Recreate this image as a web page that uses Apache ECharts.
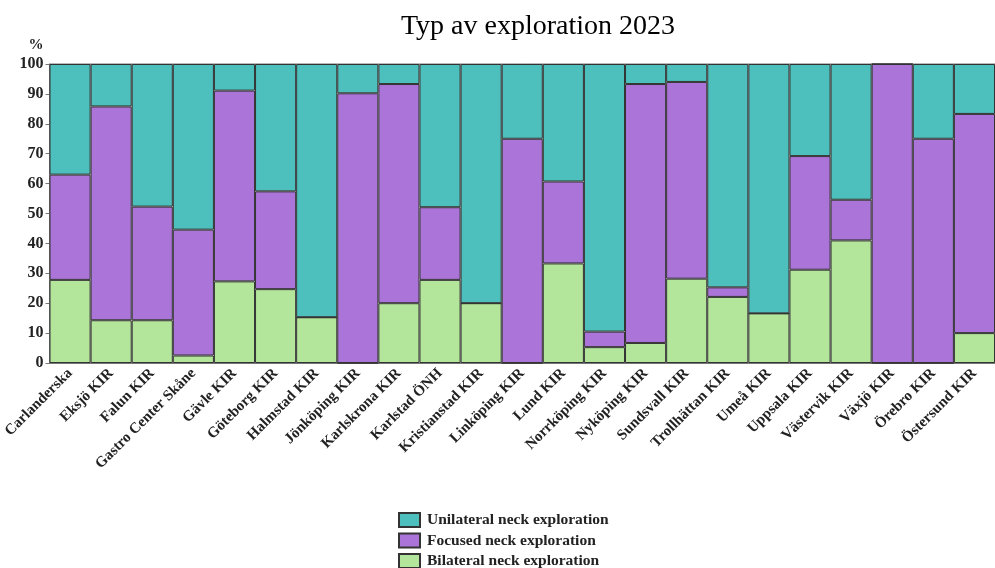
<!DOCTYPE html>
<html>
<head>
<meta charset="utf-8">
<script src="https://cdn.jsdelivr.net/npm/echarts@6/dist/echarts.min.js"></script>
<style>
  html, body { margin: 0; padding: 0; background: #fff; }
  #chart { width: 995px; height: 568px; }
</style>
</head>
<body>
<div id="chart"></div>
<script>
// Clinics (x-axis categories)
const clinics = [
  'Carlanderska', 'Eksjö KIR', 'Falun KIR', 'Gastro Center Skåne', 'Gävle KIR',
  'Göteborg KIR', 'Halmstad KIR', 'Jönköping KIR', 'Karlskrona KIR', 'Karlstad ÖNH',
  'Kristianstad KIR', 'Linköping KIR', 'Lund KIR', 'Norrköping KIR', 'Nyköping KIR',
  'Sundsvall KIR', 'Trollhättan KIR', 'Umeå KIR', 'Uppsala KIR', 'Västervik KIR',
  'Växjö KIR', 'Örebro KIR', 'Östersund KIR'
];

// Share of operations per exploration type, percent
const bilateral = [
  27.8, 14.3, 14.3, 2.5, 27.3, 24.7, 15.3, 0, 20.0, 27.8,
  20.0, 0, 33.3, 5.3, 6.7, 28.2, 22.1, 16.6, 31.2, 41.0,
  0, 0, 10.0
];
const focused = [
  35.2, 71.5, 38.0, 42.1, 63.8, 32.7, 0, 90.2, 73.3, 24.3,
  0, 75.0, 27.4, 5.2, 86.6, 65.8, 3.2, 0, 38.0, 13.6,
  100, 75.0, 73.3
];
const unilateral = [
  37.0, 14.2, 47.7, 55.4, 8.9, 42.6, 84.7, 9.8, 6.7, 47.9,
  80.0, 25.0, 39.3, 89.5, 6.7, 6.0, 74.7, 83.4, 30.8, 45.4,
  0, 25.0, 16.7
];

const yTicks = [0, 10, 20, 30, 40, 50, 60, 70, 80, 90, 100];

// Legend entries, top to bottom
const legendNames = ['Unilateral neck exploration', 'Focused neck exploration', 'Bilateral neck exploration'];

const serif = '"Liberation Serif", "DejaVu Serif", serif';
const barBorder = { borderColor: '#333', borderWidth: 1 };

const chart = echarts.init(document.getElementById('chart'), null, { renderer: 'canvas' });

// One single-row legend per entry keeps the column from wrapping near the bottom edge
const legends = legendNames.map((name, i) => ({
  orient: 'vertical',
  left: 398,
  top: 512 + i * 20.5,
  padding: 0,
  itemWidth: 21,
  itemHeight: 14,
  icon: 'rect',
  data: [name],
  textStyle: { fontFamily: serif, fontSize: 15.5, fontWeight: 'bold', color: '#222', padding: [0, 0, 0, 2] }
}));

chart.setOption({
  animation: false,
  title: {
    text: 'Typ av exploration 2023',
    left: 533,
    textAlign: 'center',
    top: 8,
    textStyle: { fontFamily: serif, fontSize: 28, fontWeight: 'normal', color: '#000' }
  },
  legend: legends,
  grid: {
    left: 49.5,
    right: 0,
    top: 64,
    bottom: 205,
    show: true,
    borderColor: '#777',
    borderWidth: 1,
    containLabel: false
  },
  xAxis: {
    type: 'category',
    data: clinics,
    axisLine: { lineStyle: { color: '#777' } },
    axisTick: { show: false },
    axisLabel: {
      interval: 0,
      rotate: 45,
      margin: 8,
      fontFamily: serif,
      fontSize: 15,
      fontWeight: 'bold',
      color: '#222'
    }
  },
  yAxis: {
    type: 'value',
    min: 0,
    max: 100,
    interval: 10,
    name: '%',
    nameLocation: 'end',
    nameGap: 11,
    nameTextStyle: { fontFamily: serif, fontSize: 15, fontWeight: 'bold', color: '#222', align: 'right', padding: [0, 6, 0, 0] },
    axisLine: { show: true, lineStyle: { color: '#777' } },
    axisTick: { show: true, length: 4, lineStyle: { color: '#777' } },
    splitLine: { show: false },
    axisLabel: {
      fontFamily: serif,
      fontSize: 16,
      fontWeight: 'bold',
      color: '#222',
      margin: 6,
      formatter: v => yTicks.includes(v) ? String(v) : ''
    }
  },
  series: [
    {
      name: 'Bilateral neck exploration',
      type: 'bar',
      stack: 'total',
      barCategoryGap: '0%',
      data: bilateral,
      itemStyle: Object.assign({ color: '#b3e59a' }, barBorder)
    },
    {
      name: 'Focused neck exploration',
      type: 'bar',
      stack: 'total',
      barCategoryGap: '0%',
      data: focused,
      itemStyle: Object.assign({ color: '#ab74d9' }, barBorder)
    },
    {
      name: 'Unilateral neck exploration',
      type: 'bar',
      stack: 'total',
      barCategoryGap: '0%',
      data: unilateral,
      itemStyle: Object.assign({ color: '#4dbfbc' }, barBorder)
    }
  ]
});
</script>
</body>
</html>
